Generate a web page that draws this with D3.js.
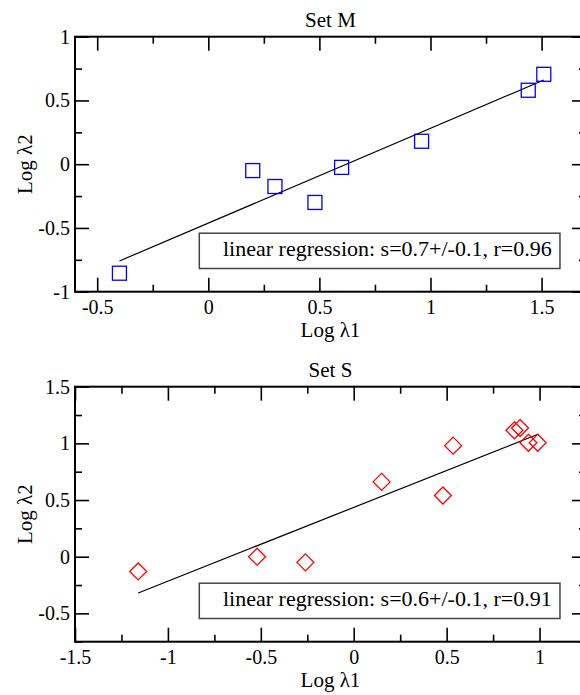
<!DOCTYPE html>
<html>
<head>
<meta charset="utf-8">
<script src="https://cdn.jsdelivr.net/npm/d3@7.9.0/dist/d3.min.js"></script>
<style>
  body { margin: 0; background: #fff; }
  svg { display: block; font-family: "Liberation Serif", "Times New Roman", serif; }
</style>
</head>
<body>
<svg id="chart" width="580" height="695"></svg>
<script>
// Set M (blue squares)
const setMX = [-0.40, 0.20, 0.30, 0.48, 0.60, 0.96, 1.44, 1.51];
const setMY = [-0.855, -0.05, -0.175, -0.30, -0.025, 0.18, 0.58, 0.705];
const setMFit = { slope: 0.743, intercept: -0.462, from: -0.40, to: 1.51 };
const setMLabel = "linear regression: s=0.7+/-0.1, r=0.96";

// Set S (red diamonds)
const setSX = [-1.16, -0.52, -0.26, 0.15, 0.48, 0.535, 0.865, 0.895, 0.94, 0.99];
const setSY = [-0.13, 0.0, -0.05, 0.66, 0.54, 0.98, 1.115, 1.135, 1.005, 1.005];
const setSFit = { slope: 0.651, intercept: 0.435, from: -1.16, to: 0.995 };
const setSLabel = "linear regression: s=0.6+/-0.1, r=0.91";

const svg = d3.select('#chart');

// Helper: draw one xmgrace-like panel
function drawPanel(opt) {
  const { top, xDomain, yDomain, xs, ys, fit, title, label, marker, color } = opt;
  const left = 75, width = 511, height = 255;
  const g = svg.append('g').attr('transform', `translate(${left},${top})`);

  const x = d3.scaleLinear().domain(xDomain).range([0, width]);
  const y = d3.scaleLinear().domain(yDomain).range([height, 0]);

  // major / minor tick values
  const majX = d3.range(Math.ceil(xDomain[0] / 0.5) * 0.5, xDomain[1] + 1e-9, 0.5);
  const minX = d3.range(Math.ceil(xDomain[0] / 0.25) * 0.25, xDomain[1] + 1e-9, 0.25);
  const majY = d3.range(Math.ceil(yDomain[0] / 0.5) * 0.5, yDomain[1] + 1e-9, 0.5);
  const minY = d3.range(Math.ceil(yDomain[0] / 0.25) * 0.25, yDomain[1] + 1e-9, 0.25);
  // plain hyphen for negatives, like the original
  const fmt = d => String(+d.toFixed(2));

  function ticks(axisFn, vals, size, withLabels, transform) {
    const a = axisFn.tickValues(vals).tickSizeInner(-size).tickSizeOuter(0);
    if (withLabels) a.tickFormat(fmt); else a.tickFormat('');
    const ag = g.append('g').attr('transform', transform).call(a);
    ag.select('.domain').remove();
    ag.selectAll('line').attr('stroke', '#000').attr('stroke-width', 1.6);
    ag.selectAll('text').attr('font-size', 20).attr('fill', '#000')
      .attr('font-family', '"Liberation Serif", serif');
    return ag;
  }

  // bottom
  ticks(d3.axisBottom(x).tickPadding(8), majX, 14, true, `translate(0,${height})`);
  ticks(d3.axisBottom(x), minX.filter(v => !majX.includes(v)), 7, false, `translate(0,${height})`);
  // top
  ticks(d3.axisTop(x), majX, 14, false, 'translate(0,0)');
  ticks(d3.axisTop(x), minX.filter(v => !majX.includes(v)), 7, false, 'translate(0,0)');
  // left
  ticks(d3.axisLeft(y).tickPadding(5), majY, 14, true, 'translate(0,0)');
  ticks(d3.axisLeft(y), minY.filter(v => !majY.includes(v)), 7, false, 'translate(0,0)');
  // right
  ticks(d3.axisRight(y), majY, 14, false, `translate(${width},0)`);
  ticks(d3.axisRight(y), minY.filter(v => !majY.includes(v)), 7, false, `translate(${width},0)`);

  // frame
  g.append('rect')
    .attr('width', width).attr('height', height)
    .attr('fill', 'none').attr('stroke', '#000').attr('stroke-width', 2);

  // regression line
  g.append('line')
    .attr('x1', x(fit.from)).attr('y1', y(fit.slope * fit.from + fit.intercept))
    .attr('x2', x(fit.to)).attr('y2', y(fit.slope * fit.to + fit.intercept))
    .attr('stroke', '#000').attr('stroke-width', 1.2);

  // markers
  const pts = xs.map((v, i) => ({ x: v, y: ys[i] }));
  if (marker === 'square') {
    g.selectAll('rect.pt').data(pts).join('rect')
      .attr('class', 'pt')
      .attr('x', d => x(d.x) - 7).attr('y', d => y(d.y) - 7)
      .attr('width', 14).attr('height', 14)
      .attr('fill', 'none').attr('stroke', color).attr('stroke-width', 1.3);
  } else {
    g.selectAll('path.pt').data(pts).join('path')
      .attr('class', 'pt')
      .attr('d', d => {
        const cx = x(d.x), cy = y(d.y), r = 8.5;
        return `M${cx},${cy - r}L${cx + r},${cy}L${cx},${cy + r}L${cx - r},${cy}Z`;
      })
      .attr('fill', 'none').attr('stroke', color).attr('stroke-width', 1.3);
  }

  // legend box
  const lg = g.append('g');
  const lt = lg.append('text')
    .attr('x', 148).attr('y', height - 36)
    .attr('font-size', 22).attr('fill', '#000')
    .text(label);
  const tw = lt.node().getComputedTextLength();
  lg.insert('rect', 'text')
    .attr('x', 124.3).attr('y', height - 58.5)
    .attr('width', tw + 24 + 8).attr('height', 35.3)
    .attr('fill', '#fff').attr('stroke', '#444').attr('stroke-width', 1.5);

  // title
  g.append('text')
    .attr('x', width / 2).attr('y', -10)
    .attr('text-anchor', 'middle').attr('font-size', 21).attr('fill', '#000')
    .text(title);

  // axis labels
  g.append('text')
    .attr('x', width / 2).attr('y', height + 45)
    .attr('text-anchor', 'middle').attr('font-size', 21).attr('fill', '#000')
    .text('Log λ1');
  g.append('text')
    .attr('transform', `translate(${31.5 - left},${height / 2}) rotate(-90)`)
    .attr('text-anchor', 'middle').attr('font-size', 21).attr('fill', '#000')
    .text('Log λ2');
}

drawPanel({
  top: 36.7, xDomain: [-0.6, 1.7], yDomain: [-1, 1],
  xs: setMX, ys: setMY, fit: setMFit,
  title: 'Set M', label: setMLabel, marker: 'square', color: '#0000ff'
});

drawPanel({
  top: 386.7, xDomain: [-1.5, 1.25], yDomain: [-0.75, 1.5],
  xs: setSX, ys: setSY, fit: setSFit,
  title: 'Set S', label: setSLabel, marker: 'diamond', color: '#ff0000'
});
</script>
</body>
</html>
